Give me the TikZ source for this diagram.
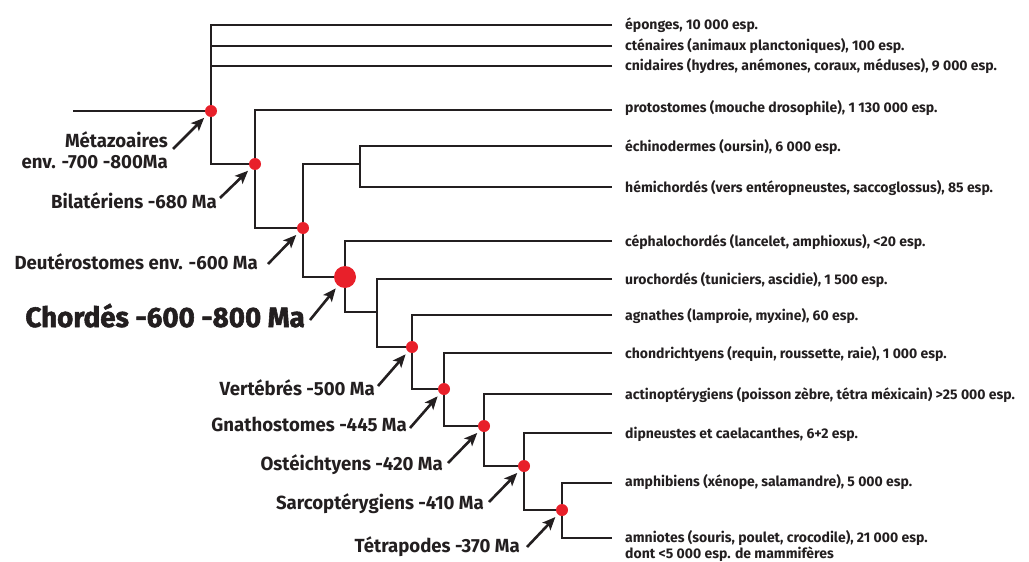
\documentclass[tikz,border=0pt]{standalone}
\usepackage{fontspec}
\setmainfont{Fira Sans}
\newfontfamily\leaffont[FakeStretch=1.0]{Fira Sans}
\newfontfamily\cladefont[FakeStretch=0.98]{Fira Sans}
\newfontfamily\bigfont[FakeStretch=0.99,FakeBold=2]{Fira Sans}
\usetikzlibrary{arrows.meta,backgrounds}
\definecolor{dotred}{HTML}{E8202A}
\definecolor{ink}{HTML}{231F20}
\tikzset{
  tree/.style={draw=ink,line width=2.6pt,line join=miter},
  dot/.style={circle,fill=dotred,inner sep=0pt,minimum size=12pt},
  bigdot/.style={circle,fill=dotred,inner sep=0pt,minimum size=22pt},
  leaf/.style={anchor=base west,inner sep=0pt,font=\leaffont\bfseries\fontsize{14}{16}\selectfont,text=ink},
  clade/.style={anchor=base east,inner sep=0pt,font=\cladefont\bfseries\fontsize{19}{21}\selectfont,text=ink},
  arr/.style={draw=ink,line width=2.6pt,-{Stealth[length=13pt,width=11pt,inset=3pt]},shorten >=3.5pt}
}
\begin{document}
\begin{tikzpicture}[x=1pt,y=-1pt]
\useasboundingbox (0,0) rectangle (1029,562);
% clade dots
\node[dot] (meta) at (211,111) {};
\node[dot] (bila) at (255,164) {};
\node[dot] (deut) at (303,228) {};
\node[bigdot] (chor) at (345,277) {};
\node[dot] (vert) at (412,347) {};
\node[dot] (gnat) at (444,389) {};
\node[dot] (oste) at (484,426) {};
\node[dot] (sarc) at (524,466) {};
\node[dot] (tetr) at (562,510) {};
% inner junctions
\coordinate (root) at (73,111);
\coordinate (ech) at (360,164);
\coordinate (uroc) at (377,312);
% leaf ends
\coordinate (e1) at (612,25);
\coordinate (e2) at (612,46);
\coordinate (e3) at (612,66);
\coordinate (e4) at (612,110);
\coordinate (e5) at (612,146);
\coordinate (e6) at (612,187);
\coordinate (e7) at (612,241);
\coordinate (e8) at (612,279);
\coordinate (e9) at (612,315);
\coordinate (e10) at (612,353);
\coordinate (e11) at (612,394);
\coordinate (e12) at (612,433);
\coordinate (e13) at (612,483);
\coordinate (e14) at (612,538);
% leaf labels
\node[leaf] (t1) at (625,29.5) {éponges, 10 000 esp.};
\node[leaf] (t2) at (625,50.5) {cténaires (animaux planctoniques), 100 esp.};
\node[leaf] (t3) at (625,70.5) {cnidaires (hydres, anémones, coraux, méduses), 9 000 esp.};
\node[leaf] (t4) at (625,112) {protostomes (mouche drosophile), 1 130 000 esp.};
\node[leaf] (t5) at (625,151) {échinodermes (oursin), 6 000 esp.};
\node[leaf] (t6) at (625,192) {hémichordés (vers entéropneustes, saccoglossus), 85 esp.};
\node[leaf] (t7) at (625,246) {céphalochordés (lancelet, amphioxus), <20 esp.};
\node[leaf] (t8) at (625,284) {urochordés (tuniciers, ascidie), 1 500 esp.};
\node[leaf] (t9) at (625,320) {agnathes (lamproie, myxine), 60 esp.};
\node[leaf] (t10) at (625,358) {chondrichtyens (requin, roussette, raie), 1 000 esp.};
\node[leaf] (t11) at (625,399) {actinoptérygiens (poisson zèbre, tétra méxicain) >25 000 esp.};
\node[leaf] (t12) at (625,438) {dipneustes et caelacanthes, 6+2 esp.};
\node[leaf] (t13) at (625,486) {amphibiens (xénope, salamandre), 5 000 esp.};
\node[leaf] (t14) at (625,542) {amniotes (souris, poulet, crocodile), 21 000 esp.};
\node[leaf] (t15) at (625,558) {dont <5 000 esp. de mammifères};
% tree lines
\begin{scope}[on background layer]
\draw[tree] (root) -- (meta.center);
\draw[tree] (e1) -| (meta.center) |- (bila.center);
\draw[tree] (e2) -- (e2 -| meta.center);
\draw[tree] (e3) -- (e3 -| meta.center);
\draw[tree] (e4) -| (bila.center) |- (deut.center);
\draw[tree] (e5) -| (ech) |- (e6);
\draw[tree] (ech) -| (deut.center) |- (chor.center);
\draw[tree] (e7) -| (chor.center) |- (uroc);
\draw[tree] (e8) -| (uroc) |- (vert.center);
\draw[tree] (e9) -| (vert.center) |- (gnat.center);
\draw[tree] (e10) -| (gnat.center) |- (oste.center);
\draw[tree] (e11) -| (oste.center) |- (sarc.center);
\draw[tree] (e12) -| (sarc.center) |- (tetr.center);
\draw[tree] (e13) -| (tetr.center) |- (e14);
\end{scope}
% clade labels
\node[clade] (lmeta) at (168,147) {Métazoaires};
\node[clade] (lmeta2) at (168,168) {env. -700 -800Ma};
\node[clade] (lbila) at (217,208) {Bilatériens -680 Ma};
\node[clade] (ldeut) at (258,269) {Deutérostomes env. -600 Ma};
\node[anchor=base east,inner sep=0pt,font=\bigfont\bfseries\fontsize{28}{30}\selectfont,text=ink] (lchor) at (305,327) {Chordés -600 -800 Ma};
\node[clade] (lvert) at (375,395) {Vertébrés -500 Ma};
\node[clade] (lgnat) at (407,431) {Gnathostomes -445 Ma};
\node[clade] (loste) at (443,470) {Ostéichtyens -420 Ma};
\node[clade] (lsarc) at (484,509) {Sarcoptérygiens -410 Ma};
\node[clade] (ltetr) at (520,552) {Tétrapodes -370 Ma};
% arrow starts
\coordinate (ameta) at (173,149);
\coordinate (abila) at (220,198);
\coordinate (adeut) at (268,264);
\coordinate (achor) at (310,320);
\coordinate (avert) at (378,386);
\coordinate (agnat) at (410,428);
\coordinate (aoste) at (448,463);
\coordinate (asarc) at (489,502);
\coordinate (atetr) at (527,547);
\draw[arr] (ameta) -- (meta);
\draw[arr] (abila) -- (bila);
\draw[arr] (adeut) -- (deut);
\draw[arr] (achor) -- (chor);
\draw[arr] (avert) -- (vert);
\draw[arr] (agnat) -- (gnat);
\draw[arr] (aoste) -- (oste);
\draw[arr] (asarc) -- (sarc);
\draw[arr] (atetr) -- (tetr);
\end{tikzpicture}
\end{document}
